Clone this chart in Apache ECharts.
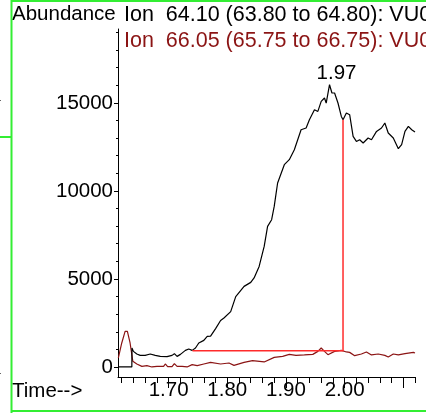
<!DOCTYPE html>
<html>
<head>
<meta charset="utf-8">
<script src="https://cdn.jsdelivr.net/npm/echarts@6.0.0/dist/echarts.min.js"></script>
<style>
html,body{margin:0;padding:0;background:#fff;}
#chart{width:426px;height:413px;}
</style>
</head>
<body>
<div id="chart"></div>
<script>
// Ion 64.10 trace: [time, abundance]
const ion64Time = [1.614,1.6373,1.6375,1.640,1.6458,1.6515,1.660,1.6686,1.6715,1.6772,1.6858,1.6973,1.7058,1.7098,1.7144,1.7201,1.7286,1.7343,1.7401,1.7458,1.7514,1.760,1.7658,1.7715,1.7801,1.7886,1.7943,1.8058,1.8144,1.8286,1.840,1.8457,1.8543,1.8629,1.8687,1.8756,1.880,1.8829,1.8858,1.8972,1.9057,1.9143,1.9258,1.9344,1.940,1.9486,1.9544,1.9601,1.9657,1.9686,1.9743,1.9784,1.9829,1.9887,1.9944,1.9973,2.003,2.0086,2.0145,2.0201,2.0257,2.0316,2.0401,2.0458,2.0544,2.0629,2.0686,2.0744,2.083,2.0916,2.0972,2.1029,2.1087,2.1144,2.120];
const ion64Value = [0,0,1079,886,738,659,659,738,795,659,602,585,659,755,602,716,943,1022,943,1079,1363,1511,1738,1755,2175,2641,2783,3141,3993,4578,4805,5055,5714,6850,7986,8367,9122,9787,10451,11491,11775,12343,13479,13575,14047,14615,14518,15086,15279,14995,16035,15563,15563,14995,14234,14047,14427,14331,13098,12814,12911,12723,13007,12911,13382,13575,13859,13291,13007,12400,12627,13382,13666,13479,13348];
// Ion 66.05 trace
const ion66Time = [1.6143,1.6201,1.6258,1.6297,1.6343,1.639,1.6458,1.6544,1.663,1.6715,1.6801,1.6914,1.6943,1.6983,1.7058,1.7098,1.7144,1.723,1.7315,1.7401,1.7487,1.760,1.7715,1.7886,1.8029,1.8114,1.8286,1.843,1.8629,1.880,1.8944,1.9057,1.9172,1.9314,1.9458,1.9544,1.9601,1.9657,1.9716,1.9829,1.9944,2.003,2.0086,2.0172,2.0286,2.0372,2.0458,2.0573,2.0686,2.0744,2.083,2.0916,2.1029,2.1173,2.120];
const ion66Value = [511,1363,2022,2022,1363,318,170,34,74,0,34,34,170,17,17,187,34,34,0,131,74,170,261,170,227,91,261,358,284,545,602,716,659,682,716,886,1079,886,699,886,943,852,829,642,738,852,682,738,659,568,738,682,755,829,795];
// integration baseline and drop line
const integTime = [1.7406,1.9973,1.9973];
const integValue = [926,926,14047];
// apex label
const apexTime = [1.9743];
const apexValue = [16035];
const apexLabel = '1.97';
// ticks
const xMinorTicks = [1.62,1.64,1.66,1.68,1.70,1.72,1.74,1.76,1.78,1.80,1.82,1.84,1.86,1.88,1.90,1.92,1.94,1.96,1.98,2.00,2.02,2.04,2.06,2.08,2.10,2.12];
const xMajorTicks = [1.70,1.80,1.90,2.00,2.10];
const xTickLabels = [1.70,1.80,1.90,2.00];
const yMajorTicks = [0,5000,10000,15000];
const yMinorTicks = [1000,2000,3000,4000,6000,7000,8000,9000,11000,12000,13000,14000,16000,17000,18000,19000];
const titleY = 'Abundance';
const legend1 = 'Ion  64.10 (63.80 to 64.80): VU0';
const legend2 = 'Ion  66.05 (65.75 to 66.75): VU0';
const xName = 'Time-->';

const zip = (a,b) => a.map((v,i)=>[v,b[i]]);
const FONT = 'Liberation Sans, Arial, sans-serif';
const FS = 20.5;
const FSL = 21.5;
const XMIN = 1.6137, XMAX = 2.12, YMIN = -570, YMAX = 19200;

const chart = echarts.init(document.getElementById('chart'), null, {renderer:'canvas'});
chart.setOption({
  animation:false,
  backgroundColor:'#fff',
  grid:{left:118, right:11, top:29, bottom:36, containLabel:false},
  xAxis:[
    {type:'value', min:XMIN, max:XMAX, position:'bottom',
     axisLine:{show:true, onZero:false, lineStyle:{color:'#000', width:1}},
     axisTick:{show:true, customValues:xMinorTicks, length:6, lineStyle:{color:'#000'}},
     axisLabel:{show:false}, splitLine:{show:false}},
    {type:'value', min:XMIN, max:XMAX, position:'bottom',
     axisLine:{show:false, onZero:false},
     axisTick:{show:true, customValues:xMajorTicks, length:11, lineStyle:{color:'#000'}},
     axisLabel:{show:true, customValues:xTickLabels, formatter:v=>v.toFixed(2), fontSize:FS, fontFamily:FONT, color:'#000', margin:3},
     splitLine:{show:false}}
  ],
  yAxis:[
    {type:'value', min:YMIN, max:YMAX, position:'left',
     axisLine:{show:true, onZero:false, lineStyle:{color:'#000', width:1}},
     axisTick:{show:true, customValues:yMajorTicks, length:4, lineStyle:{color:'#000'}},
     axisLabel:{show:true, customValues:yMajorTicks, formatter:v=>String(v), fontSize:FS, fontFamily:FONT, color:'#000', margin:5},
     splitLine:{show:false}},
    {type:'value', min:YMIN, max:YMAX, position:'left',
     axisLine:{show:false, onZero:false},
     axisTick:{show:true, customValues:yMinorTicks, length:2, lineStyle:{color:'#000'}},
     axisLabel:{show:false}, splitLine:{show:false}}
  ],
  series:[
    {type:'line', data:zip(ion66Time, ion66Value), showSymbol:false, symbol:'none',
     lineStyle:{color:'#8b1414', width:1.2}, z:2},
    {type:'line', data:zip(ion64Time, ion64Value), showSymbol:false, symbol:'none',
     lineStyle:{color:'#000', width:1.2}, z:3},
    {type:'line', data:zip(integTime, integValue), showSymbol:false, symbol:'none',
     lineStyle:{color:'#ff2b2b', width:1.5}, z:4},
    {type:'scatter', data:zip(apexTime, apexValue), symbolSize:0, itemStyle:{color:'#000', opacity:1},
     label:{show:true, formatter:apexLabel, position:'top', distance:0, offset:[7,-1], fontSize:FS, fontFamily:FONT, color:'#000', opacity:1}, z:5}
  ],
  graphic:[
    {type:'text', left:12, top:4, style:{text:titleY, fontSize:FS, fontFamily:FONT, fill:'#000'}},
    {type:'text', left:124, top:4, style:{text:legend1, fontSize:FSL, fontFamily:FONT, fill:'#000'}},
    {type:'text', left:124, top:30, style:{text:legend2, fontSize:FSL, fontFamily:FONT, fill:'#8b1414'}},
    {type:'text', left:12, top:381, style:{text:xName, fontSize:FS, fontFamily:FONT, fill:'#000'}},
    {type:'rect', shape:{x:10.5, y:0, width:2, height:413}, style:{fill:'#33ee33'}, silent:true},
    {type:'rect', shape:{x:11, y:0, width:415, height:2}, style:{fill:'#33ee33'}, silent:true},
    {type:'rect', shape:{x:11, y:410, width:415, height:2}, style:{fill:'#33ee33'}, silent:true},
    {type:'rect', shape:{x:0, y:136, width:11, height:2}, style:{fill:'#33ee33'}, silent:true},
    {type:'rect', shape:{x:0, y:100, width:1, height:1}, style:{fill:'#666'}, silent:true},
    {type:'rect', shape:{x:0, y:373, width:1, height:1}, style:{fill:'#666'}, silent:true}
  ]
});
</script>
</body>
</html>
